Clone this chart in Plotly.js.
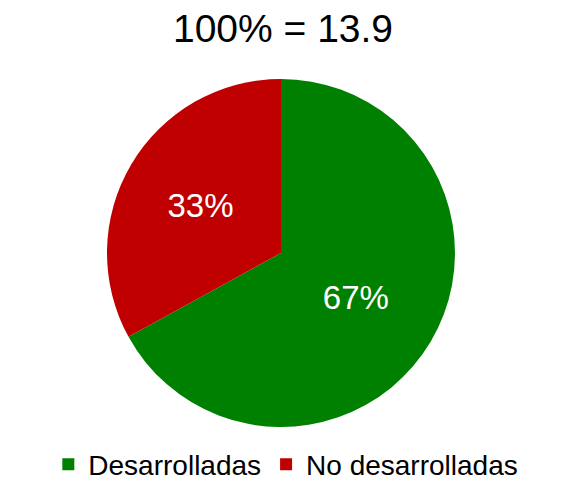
<!DOCTYPE html>
<html><head><meta charset="utf-8">
<script src="https://cdn.plot.ly/plotly-3.0.1.min.js"></script>
<style>html,body{margin:0;padding:0;background:#fff}</style>
</head><body><div id="chart" style="width:566px;height:492px"></div>
<script>
const categories = ["Desarrolladas", "No desarrolladas"];
const shares = [67, 33];
const colors = ["#008000", "#C00000"];
const titleText = "100% = 13.9";

Plotly.newPlot("chart", [{
  type: "pie",
  labels: categories,
  values: shares,
  sort: false,
  direction: "clockwise",
  rotation: 0,
  marker: {colors: colors, line: {width: 0}},
  textinfo: "percent",
  texttemplate: "%{percent:.0%}",
  textposition: "inside",
  insidetextorientation: "horizontal",
  textfont: {color: "#ffffff", size: 33, family: "Liberation Sans, Arial, sans-serif"},
  hoverinfo: "none"
}], {
  width: 566, height: 492,
  margin: {l: 0, r: 4, t: 79, b: 65, autoexpand: false},
  paper_bgcolor: "#ffffff",
  font: {family: "Liberation Sans, Arial, sans-serif", color: "#000000"},
  title: {text: titleText, x: 0.5, xanchor: "center", yref: "container", y: 0.943, yanchor: "middle",
          font: {size: 39, color: "#000000", family: "Liberation Sans, Arial, sans-serif"}},
  showlegend: true,
  legend: {orientation: "h", xref: "container", yref: "container", x: 0.505, xanchor: "center", y: 0.005, yanchor: "bottom",
           font: {size: 28, color: "#000000"}, itemwidth: 30, tracegroupgap: 0}
}, {displayModeBar: false, staticPlot: true});
</script></body></html>
